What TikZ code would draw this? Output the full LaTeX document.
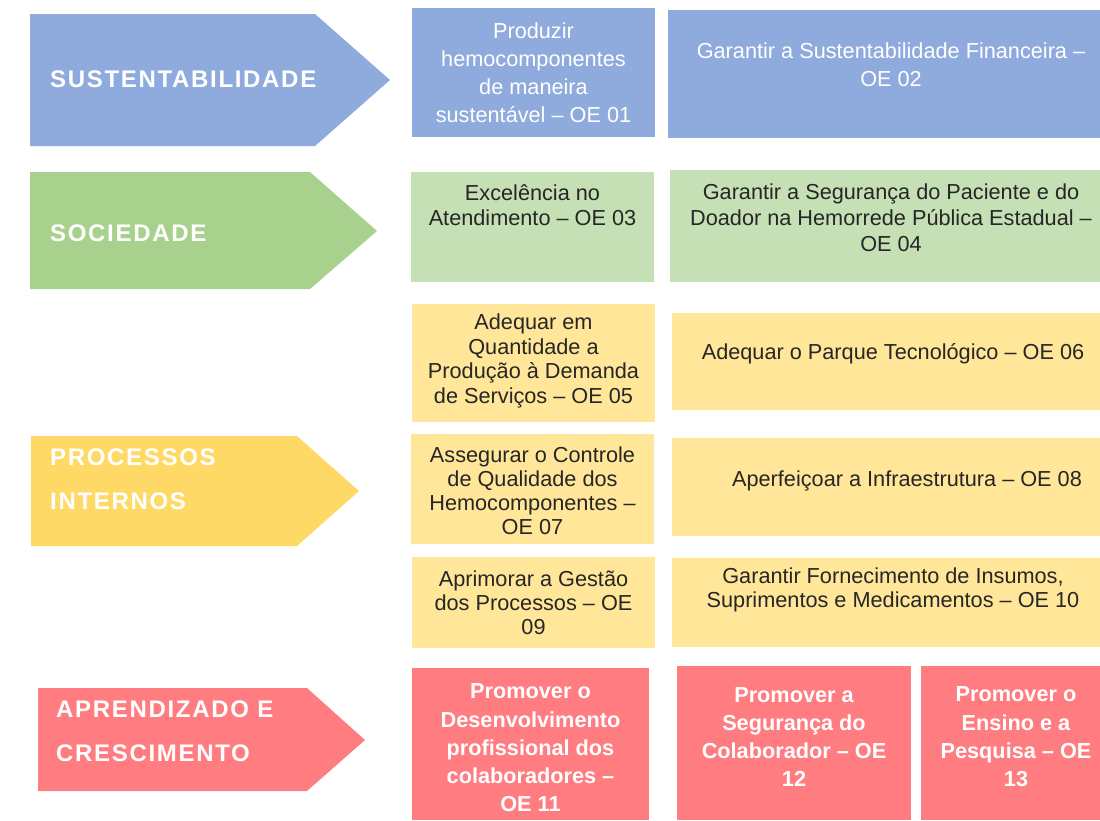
\documentclass[tikz,border=0pt]{standalone}
\usepackage{fontspec}
\setmainfont{Liberation Sans}
\newfontfamily\pillarfont[LetterSpace=7]{Liberation Sans}

\definecolor{sustcol}{HTML}{8FAADC}
\definecolor{soccol}{HTML}{A9D18E}
\definecolor{socbox}{HTML}{C5E0B4}
\definecolor{proccol}{HTML}{FFD966}
\definecolor{procbox}{HTML}{FFE699}
\definecolor{aprcol}{HTML}{FF7C80}
\definecolor{darktext}{HTML}{262626}

\begin{document}
\begin{tikzpicture}[x=1pt, y=-1pt,
  pillar/.style={anchor=west, align=left, text=white, inner sep=0pt,
    font=\pillarfont\bfseries\fontsize{24}{44}\selectfont},
  oebox/.style={anchor=north west, inner sep=0pt, outer sep=0pt},
  oetext/.style={align=center, inner sep=0pt, text=darktext,
    font=\fontsize{21.7}{#1}\selectfont},
  strong/.style={font=\fontsize{21.7}{28.3}\selectfont\bfseries}]

  \useasboundingbox (0,0) rectangle (1100,820);

  % perspective arrows
  \fill[sustcol] (30,14) -- (315,14) -- (390,80) -- (315,146) -- (30,146) -- cycle;
  \fill[soccol] (30,172) -- (310,172) -- (377,231) -- (310,289) -- (30,289) -- cycle;
  \fill[proccol] (31,436) -- (297,436) -- (359,491) -- (297,546) -- (31,546) -- cycle;
  \fill[aprcol] (38,688) -- (307,688) -- (365,740) -- (307,791) -- (38,791) -- cycle;

  \node[pillar] (sust) at (50,79) {SUSTENTABILIDADE};
  \node[pillar] (soc) at (50,233) {SOCIEDADE};
  \node[pillar] (proc) at (50,479) {PROCESSOS\\INTERNOS};
  \node[pillar] (apr) at (56,731) {APRENDIZADO E\\CRESCIMENTO};

  % sustentabilidade
  \node[oebox, fill=sustcol, minimum width=243, minimum height=129,
    label={[oetext=28, text=white]center:Produzir\\hemocomponentes\\de maneira\\sustentável – OE 01}]
    (oe01) at (412,8) {};
  \node[oebox, fill=sustcol, minimum width=432, minimum height=128,
    label={[oetext=28, text=white, xshift=7, yshift=9]center:Garantir a Sustentabilidade Financeira –\\OE 02}]
    (oe02) at (668,10) {};

  % sociedade
  \node[oebox, fill=socbox, minimum width=243, minimum height=110,
    label={[oetext=25, yshift=21.5]center:Excelência no\\Atendimento – OE 03}]
    (oe03) at (411,172) {};
  \node[oebox, fill=socbox, minimum width=430, minimum height=112,
    label={[oetext=26, xshift=6, yshift=8]center:Garantir a Segurança do Paciente e do\\Doador na Hemorrede Pública Estadual –\\OE 04}]
    (oe04) at (670,170) {};

  % processos internos
  \node[oebox, fill=procbox, minimum width=243, minimum height=118,
    label={[oetext=24.4, yshift=2]center:Adequar em\\Quantidade a\\Produção à Demanda\\de Serviços – OE 05}]
    (oe05) at (412,304) {};
  \node[oebox, fill=procbox, minimum width=428, minimum height=97,
    label={[oetext=24, xshift=7, yshift=7.5]center:Adequar o Parque Tecnológico – OE 06}]
    (oe06) at (672,313) {};
  \node[oebox, fill=procbox, minimum width=243, minimum height=110,
    label={[oetext=24, yshift=-2]center:Assegurar o Controle\\de Qualidade dos\\Hemocomponentes –\\OE 07}]
    (oe07) at (411,434) {};
  \node[oebox, fill=procbox, minimum width=428, minimum height=98,
    label={[oetext=24, xshift=21, yshift=6]center:Aperfeiçoar a Infraestrutura – OE 08}]
    (oe08) at (672,438) {};
  \node[oebox, fill=procbox, minimum width=243, minimum height=91,
    label={[oetext=24]center:Aprimorar a Gestão\\dos Processos – OE\\09}]
    (oe09) at (412,557) {};
  \node[oebox, fill=procbox, minimum width=428, minimum height=89,
    label={[oetext=24, xshift=7, yshift=12.5]center:{Garantir Fornecimento de Insumos,\\Suprimentos e Medicamentos – OE 10}}]
    (oe10) at (672,558) {};

  % aprendizado e crescimento
  \node[oebox, fill=aprcol, minimum width=237, minimum height=152,
    label={[oetext=28, strong, text=white, yshift=-4]center:Promover o\\Desenvolvimento\\profissional dos\\colaboradores –\\OE 11}]
    (oe11) at (412,668) {};
  \node[oebox, fill=aprcol, minimum width=234, minimum height=154,
    label={[oetext=28, strong, text=white, yshift=6]center:Promover a\\Segurança do\\Colaborador – OE\\12}]
    (oe12) at (677,666) {};
  \node[oebox, fill=aprcol, minimum width=179, minimum height=154,
    label={[oetext=28, strong, text=white, xshift=5.5, yshift=6]center:Promover o\\Ensino e a\\Pesquisa – OE\\13}]
    (oe13) at (921,666) {};
\end{tikzpicture}
\end{document}
